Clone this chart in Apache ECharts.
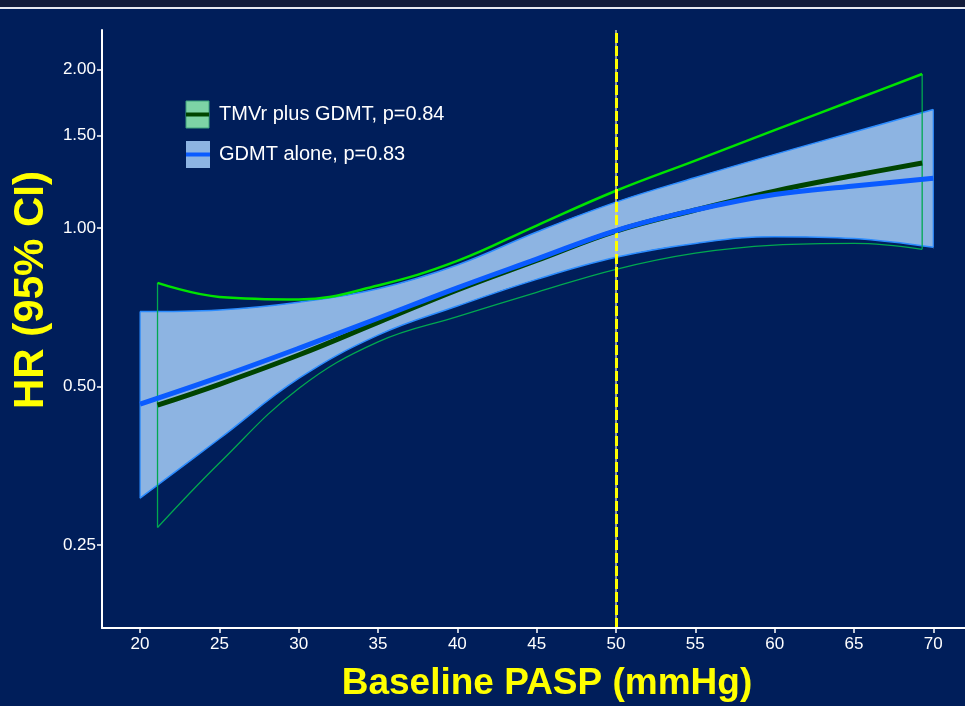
<!DOCTYPE html>
<html><head><meta charset="utf-8">
<script src="https://cdn.jsdelivr.net/npm/echarts@6/dist/echarts.min.js"></script>
<style>html,body{margin:0;padding:0;background:#001E5A;overflow:hidden}#c{width:965px;height:706px}</style>
</head><body><div id="c"></div>
<script>
// ---- data ----
const paspGdmt = [20, 25, 30, 35, 40, 45, 50, 55, 60, 65, 70];
const gdmtHR   = [0.463, 0.521, 0.591, 0.674, 0.770, 0.873, 0.989, 1.082, 1.158, 1.202, 1.243];
const gdmtLo   = [0.307, 0.398, 0.518, 0.626, 0.711, 0.799, 0.880, 0.935, 0.963, 0.955, 0.919];
const gdmtHi   = [0.694, 0.699, 0.723, 0.767, 0.851, 0.983, 1.120, 1.247, 1.380, 1.522, 1.679];

const paspTmvr = [21.1, 25, 30, 35, 40, 45, 50, 55, 60, 65, 69.3];
const tmvrHR   = [0.461, 0.505, 0.574, 0.662, 0.763, 0.868, 0.987, 1.082, 1.175, 1.258, 1.329];
const tmvrLo   = [0.270, 0.358, 0.496, 0.608, 0.679, 0.755, 0.835, 0.896, 0.928, 0.935, 0.911];
const tmvrHi   = [0.787, 0.740, 0.732, 0.778, 0.866, 1.011, 1.177, 1.343, 1.534, 1.750, 1.961];

const xTicks = [20, 25, 30, 35, 40, 45, 50, 55, 60, 65, 70];
const yTicks = [0.25, 0.50, 1.00, 1.50, 2.00];
const refX = 50;
const xRange = [17.6, 72.0];
const yRange = [0.174, 2.377];

const legendNames = ['TMVr plus GDMT, p=0.84', 'GDMT alone, p=0.83'];
const xTitle = 'Baseline PASP (mmHg)';
const yTitle = 'HR (95% CI)';

// ---- build ----
const L = Math.log2;
const pts = (xs, ys) => xs.map((x, i) => [x, L(ys[i])]);
const vseg = (x, a, b) => [[x, a], [x, b]];
const FONT = '"Liberation Sans", Arial, sans-serif';

const navy = '#001E5A';
const bandBorder = '#2B8CFF';
const bandFill = '#8DB4E2';
const blue = '#0A5BFF';
const dkGreen = '#004400';
const brGreen = '#00E400';
const ltGreen = '#00A850';
const SM = 0.4;

const gl = paspGdmt.length - 1;
const last = paspTmvr.length - 1;
const yMinL = L(yRange[0]);

const chart = echarts.init(document.getElementById('c'), null, {renderer: 'canvas'});
chart.setOption({
  backgroundColor: navy,
  animation: false,
  grid: {left: 102, right: 0, top: 30, bottom: 78},
  xAxis: {
    type: 'value', min: xRange[0], max: xRange[1], z: 20,
    axisLine: {show: true, onZero: false, lineStyle: {color: '#FFFFFF', width: 2}},
    axisTick: {show: true, customValues: xTicks, length: 5, lineStyle: {color: '#FFFFFF', width: 1.5}},
    axisLabel: {customValues: xTicks, color: '#FFFFFF', fontSize: 17, fontFamily: FONT, margin: 8},
    splitLine: {show: false}
  },
  yAxis: {
    type: 'value', min: yMinL, max: L(yRange[1]), z: 20,
    axisLine: {show: true, onZero: false, lineStyle: {color: '#FFFFFF', width: 2}},
    axisTick: {show: true, customValues: yTicks.map(L), length: 5, lineStyle: {color: '#FFFFFF', width: 1.5}},
    axisLabel: {customValues: yTicks.map(L), color: '#FFFFFF', fontSize: 17, fontFamily: FONT, margin: 6,
      formatter: v => Math.pow(2, v).toFixed(2)},
    splitLine: {show: false}
  },
  series: [
    // GDMT CI band: fill under upper bound, then mask under lower bound
    {type: 'line', name: 'gdmtHi', data: pts(paspGdmt, gdmtHi), smooth: SM, symbol: 'none', z: 1,
     lineStyle: {color: bandBorder, width: 1.5}, areaStyle: {color: bandFill, opacity: 1, origin: 'start'}},
    {type: 'line', name: 'gdmtLo', data: pts(paspGdmt, gdmtLo), smooth: SM, symbol: 'none', z: 2,
     lineStyle: {color: bandBorder, width: 1.5}, areaStyle: {color: navy, opacity: 1, origin: 'start'}},
    {type: 'line', name: 'maskL', data: vseg(paspGdmt[0], yMinL, L(gdmtLo[0]) - 0.01),
     symbol: 'none', z: 2, lineStyle: {color: navy, width: 3}},
    {type: 'line', name: 'maskR', data: vseg(paspGdmt[gl], yMinL, L(gdmtLo[gl]) - 0.01),
     symbol: 'none', z: 2, lineStyle: {color: navy, width: 3}},
    {type: 'line', name: 'gdmtL', data: vseg(paspGdmt[0], L(gdmtLo[0]), L(gdmtHi[0])),
     symbol: 'none', z: 2, lineStyle: {color: bandBorder, width: 1.2}},
    {type: 'line', name: 'gdmtR', data: vseg(paspGdmt[gl], L(gdmtLo[gl]), L(gdmtHi[gl])),
     symbol: 'none', z: 2, lineStyle: {color: bandBorder, width: 1.2}},
    // TMVr CI outline
    {type: 'line', name: 'tmvrLo', data: pts(paspTmvr, tmvrLo), smooth: SM, symbol: 'none', z: 3,
     lineStyle: {color: ltGreen, width: 1.3}},
    {type: 'line', name: 'tmvrL', data: vseg(paspTmvr[0], L(tmvrLo[0]), L(tmvrHi[0])),
     symbol: 'none', z: 3, lineStyle: {color: ltGreen, width: 1.3}},
    {type: 'line', name: 'tmvrR', data: vseg(paspTmvr[last], L(tmvrLo[last]), L(tmvrHi[last])),
     symbol: 'none', z: 3, lineStyle: {color: ltGreen, width: 1.3}},
    {type: 'line', name: 'tmvrHi', data: pts(paspTmvr, tmvrHi), smooth: SM, symbol: 'none', z: 3,
     lineStyle: {color: brGreen, width: 2.5}},
    // estimates
    {type: 'line', name: 'tmvr', data: pts(paspTmvr, tmvrHR), smooth: SM, symbol: 'none', z: 4,
     lineStyle: {color: dkGreen, width: 5}},
    {type: 'line', name: 'gdmt', data: pts(paspGdmt, gdmtHR), smooth: SM, symbol: 'none', z: 5,
     lineStyle: {color: blue, width: 5},
     markLine: {silent: true, symbol: 'none', label: {show: false},
       data: [
         {xAxis: refX, lineStyle: {color: '#B8BEC8', width: 1.5, type: 'solid'}},
         {xAxis: refX, lineStyle: {color: '#FFFF00', width: 3, type: [10, 3]}}
       ]}}
  ],
  graphic: [
    {type: 'rect', shape: {x: 0, y: 0, width: 965, height: 7}, style: {fill: '#131D3B'}, z: 100},
    {type: 'rect', shape: {x: 0, y: 7, width: 965, height: 2}, style: {fill: '#E8EAF0'}, z: 100},
    // legend
    {type: 'rect', shape: {x: 186, y: 101, width: 23, height: 27}, style: {fill: '#7DD3A6', stroke: '#3FA37C', lineWidth: 1}, z: 100},
    {type: 'rect', shape: {x: 186, y: 112.5, width: 23, height: 4}, style: {fill: dkGreen}, z: 101},
    {type: 'text', x: 219, y: 114, style: {text: legendNames[0], fill: '#FFFFFF', font: '20px ' + FONT, textVerticalAlign: 'middle'}, z: 100},
    {type: 'rect', shape: {x: 186, y: 141, width: 24, height: 27}, style: {fill: bandFill}, z: 100},
    {type: 'rect', shape: {x: 186, y: 152.5, width: 24, height: 4}, style: {fill: blue}, z: 101},
    {type: 'text', x: 219, y: 154, style: {text: legendNames[1], fill: '#FFFFFF', font: '20px ' + FONT, textVerticalAlign: 'middle'}, z: 100},
    // axis titles
    {type: 'text', x: 547, y: 684, style: {text: xTitle, fill: '#FFFF00', font: 'bold 37px ' + FONT, textAlign: 'center', textVerticalAlign: 'middle'}, z: 100},
    {type: 'text', x: 31, y: 290, rotation: Math.PI / 2, style: {text: yTitle, fill: '#FFFF00', font: 'bold 42px ' + FONT, textAlign: 'center', textVerticalAlign: 'middle'}, z: 100}
  ]
});
</script></body></html>
